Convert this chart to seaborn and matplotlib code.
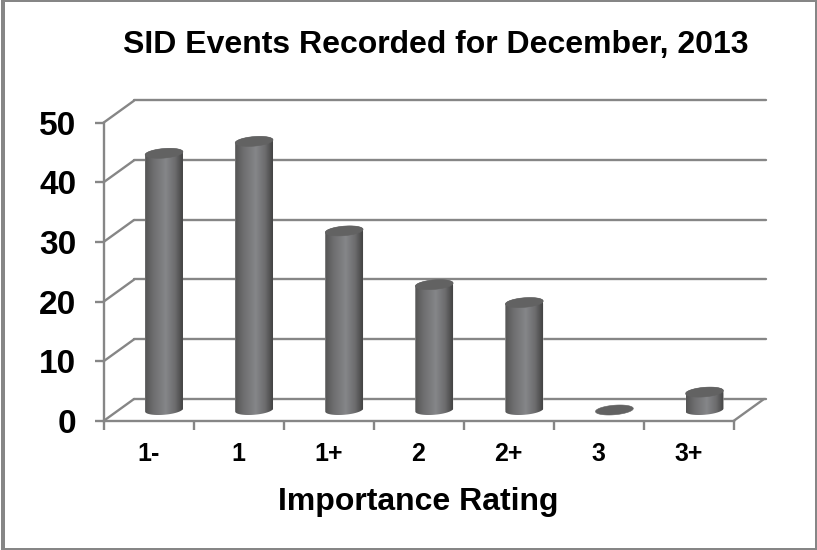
import numpy as np
import pandas as pd
import matplotlib
matplotlib.use("Agg")
import matplotlib.pyplot as plt
from matplotlib.colors import LinearSegmentedColormap
from matplotlib.patches import PathPatch, Polygon, Rectangle
from matplotlib.path import Path
import seaborn as sns

# Event counts per importance rating
ratings = ["1-", "1", "1+", "2", "2+", "3", "3+"]
events = [43, 45, 30, 21, 18, 0, 3]
y_levels = [0, 10, 20, 30, 40, 50]

title_text = "SID Events Recorded for December, 2013"
x_title = "Importance Rating"

FRAME = "#868686"
W, H = 817, 550
LINE_PT = 1.7

sns.set_theme(style="white")
plt.rcParams["font.family"] = ["Liberation Sans", "DejaVu Sans"]
plt.rcParams["font.weight"] = "bold"

fig = plt.figure(figsize=(W / 100, H / 100), dpi=100, facecolor="white")


def plane(left, top, right, bottom):
    """Axes placed by its pixel box, measured from the top-left of the figure."""
    ax = fig.add_axes([left / W, 1 - bottom / H, (right - left) / W, (bottom - top) / H])
    ax.set_facecolor("none")
    ax.set_xlim(-0.5, 6.5)
    ax.set_ylim(0, 50)
    return ax


# Outer chart border, heavier on the left side
for x0, y0, x1, y1 in [(1, 0, 5, 550), (1, 0, 817, 2), (815, 0, 817, 550), (1, 548, 817, 550)]:
    fig.add_artist(Rectangle((x0 / W, 1 - y1 / H), (x1 - x0) / W, (y1 - y0) / H,
                             transform=fig.transFigure, facecolor=FRAME, edgecolor="none"))

# Back wall: carries the horizontal gridlines
back = plane(134, 100, 766, 399)
back.set_yticks(y_levels)
back.set_xticks([])
back.tick_params(left=False, labelleft=False)
back.grid(axis="y", color=FRAME, linewidth=LINE_PT, clip_on=False)
back.set_axisbelow(True)
sns.despine(ax=back, left=True, bottom=True)

# Front plane: carries the axes, ticks and labels
front = plane(103.5, 122.7, 733.5, 421)
sns.despine(ax=front)
for side in ("left", "bottom"):
    front.spines[side].set_color(FRAME)
    front.spines[side].set_linewidth(LINE_PT)
front.set_yticks(y_levels)
front.set_xticks(np.arange(-0.5, 7, 1))
front.set_xticklabels([])
front.set_xticks(np.arange(len(ratings)), labels=ratings, minor=True)
front.tick_params(axis="both", which="major", direction="out", length=6.5,
                  width=LINE_PT, color=FRAME, left=True, bottom=True)
front.tick_params(axis="y", labelsize=24, pad=13, labelcolor="black")
front.tick_params(axis="x", which="minor", length=0, labelsize=18, pad=15,
                  labelcolor="black", bottom=False)
front.set_xlabel(x_title, fontsize=23, fontweight="bold", color="black", labelpad=15)

# Slanted floor and wall edges between the front plane and the back wall
depth_x = 30.5 / (630 / 7)
depth_y = 22 / (298.3 / 50)
for level in y_levels:
    front.plot([-0.5, -0.5 + depth_x], [level, level + depth_y], color=FRAME,
               linewidth=LINE_PT, clip_on=False, solid_capstyle="round")
front.plot([6.5, 6.5 + depth_x], [0, depth_y], color=FRAME, linewidth=LINE_PT,
           clip_on=False, solid_capstyle="round")

# Cylinders stand on the plane halfway between front and back
bars = plane(119, 111.5, 749.5, 410)
bars.axis("off")
table = pd.DataFrame({"rating": ratings, "events": events})
sns.barplot(data=table, x="rating", y="events", color="#666666", saturation=1,
            width=0.42, ax=bars)
bars.set_xlim(-0.5, 6.5)
bars.set_ylim(0, 50)
bars.axis("off")

shade = LinearSegmentedColormap.from_list(
    "cylinder",
    [(0.0, "#545454"), (0.22, "#6e6e6f"), (0.55, "#858689"),
     (0.8, "#6c6c6d"), (1.0, "#434343")],
)
ramp = np.linspace(0, 1, 128).reshape(1, -1)

CAP_HALF = 0.80   # half height of an end cap, in value units
CAP_TILT = 0.25   # rise of the cap's right end, in value units


def cap_points(cx, half_w, level, start, stop):
    t = np.linspace(start, stop, 60)
    c = np.cos(t)
    return np.column_stack([cx + half_w * c,
                            level + CAP_HALF * np.sin(t) + CAP_TILT * c])


for bar in list(bars.patches):
    half_w = bar.get_width() / 2
    cx = bar.get_x() + half_w
    top = bar.get_height()
    if top > 0:
        lower = cap_points(cx, half_w, 0, np.pi, 2 * np.pi)
        upper = cap_points(cx, half_w, top, 0, np.pi)
        outline = np.vstack([lower, upper, lower[:1]])
        body = PathPatch(Path(outline), transform=bars.transData,
                         facecolor="none", edgecolor="none", clip_on=False)
        bars.add_patch(body)
        bar.set_clip_path(body)
        image = bars.imshow(ramp, cmap=shade, aspect="auto", zorder=3,
                            extent=[cx - half_w, cx + half_w,
                                    -CAP_HALF * 2, top + CAP_HALF * 2],
                            interpolation="bilinear")
        # The lower cap dips below the axes box, so clip to the cylinder only
        image.set_clip_box(fig.bbox)
        image.set_clip_path(body)
    else:
        bar.set_visible(False)
    lid = cap_points(cx, half_w, top, 0, 2 * np.pi)
    bars.add_patch(Polygon(lid, closed=True, facecolor="#626262", edgecolor="#626262",
                           linewidth=0.4, zorder=4, clip_on=False))

bars.set_xlim(-0.5, 6.5)
bars.set_ylim(0, 50)

fig.text(436 / W, 1 - 44.5 / H, title_text, ha="center", va="center",
         fontsize=23, fontweight="bold", color="black")

fig.savefig("out.png", dpi=100, facecolor="white")
